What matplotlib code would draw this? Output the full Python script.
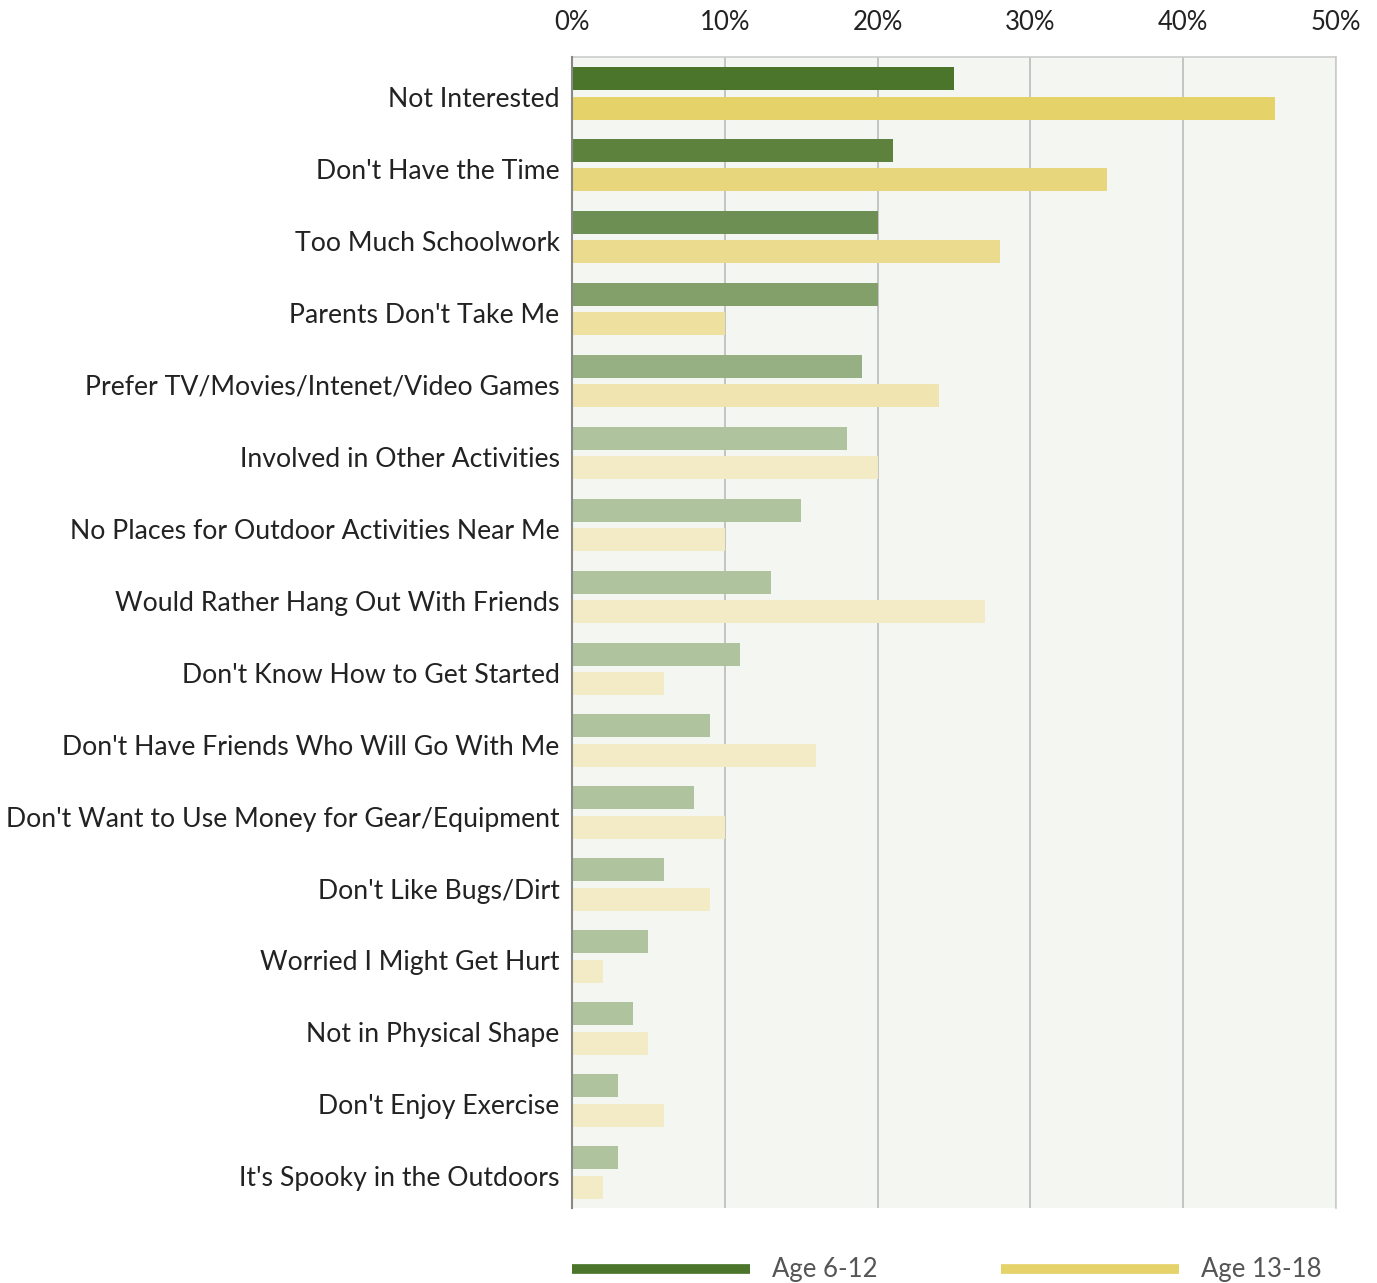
import numpy as np
import matplotlib.pyplot as plt
from matplotlib.lines import Line2D

reasons = [
    "Not Interested",
    "Don't Have the Time",
    "Too Much Schoolwork",
    "Parents Don't Take Me",
    "Prefer TV/Movies/Intenet/Video Games",
    "Involved in Other Activities",
    "No Places for Outdoor Activities Near Me",
    "Would Rather Hang Out With Friends",
    "Don't Know How to Get Started",
    "Don't Have Friends Who Will Go With Me",
    "Don't Want to Use Money for Gear/Equipment",
    "Don't Like Bugs/Dirt",
    "Worried I Might Get Hurt",
    "Not in Physical Shape",
    "Don't Enjoy Exercise",
    "It's Spooky in the Outdoors",
]
age_6_12 = [25, 21, 20, 20, 19, 18, 15, 13, 11, 9, 8, 6, 5, 4, 3, 3]
age_13_18 = [46, 35, 28, 10, 24, 20, 10, 27, 6, 16, 10, 9, 2, 5, 6, 2]
series_names = ["Age 6-12", "Age 13-18"]

# top rows get stronger shades, the rest fade out
greens = ["#4a752b", "#5c823e", "#6d8f54", "#839f6a", "#97b083"] + ["#aec39e"] * 11
yellows = ["#e5d36a", "#e8d67c", "#ebdb8e", "#eee09e", "#f0e4b0"] + ["#f3ebc6"] * 11

plt.rcParams['font.family'] = ['Lato', 'DejaVu Sans']

fig = plt.figure(figsize=(13.77, 12.83), dpi=100)
ax = fig.add_axes([0.4154, 0.0585, 0.5548, 0.8971])
ax.set_facecolor("#f4f6f1")

y = np.arange(len(reasons))
h = 0.32
ax.barh(y - 0.2, age_6_12, height=h, color=greens, zorder=3)
ax.barh(y + 0.21, age_13_18, height=h, color=yellows, zorder=3)

ax.set_xlim(0, 50)
ax.set_ylim(len(reasons) - 0.5, -0.5)
ax.set_xticks(range(0, 51, 10))
ax.set_xticklabels([f"{v}%" for v in range(0, 51, 10)])
ax.xaxis.tick_top()
ax.tick_params(axis='x', length=0, pad=16, labelsize=18.5, colors="#222222")
ax.set_yticks(y + 0.06)
ax.set_yticklabels(reasons)
ax.tick_params(axis='y', length=0, pad=9, labelsize=19.2, colors="#222222")

ax.grid(axis='x', color="#bbbbbb", linewidth=1.2, zorder=1)
ax.grid(axis='y', visible=False)
for side in ['top', 'right']:
    ax.spines[side].set_color("#cccccc")
    ax.spines[side].set_linewidth(1.2)
ax.spines['bottom'].set_visible(False)
ax.spines['left'].set_color("#888888")
ax.spines['left'].set_linewidth(1.5)
ax.spines['left'].set_zorder(4)

# legend drawn by hand below the plot
W, H = 1377, 1283
for x0, name, col in [(572, series_names[0], greens[0]), (1001, series_names[1], yellows[0])]:
    fig.add_artist(Line2D([x0 / W, (x0 + 178) / W], [1 - 1269 / H] * 2,
                          color=col, linewidth=7, solid_capstyle='butt'))
    fig.text((x0 + 200) / W, 1 - 1269 / H, name, fontsize=18.5, color="#555555",
             va='center', ha='left')

fig.savefig("out.png", dpi=100)
